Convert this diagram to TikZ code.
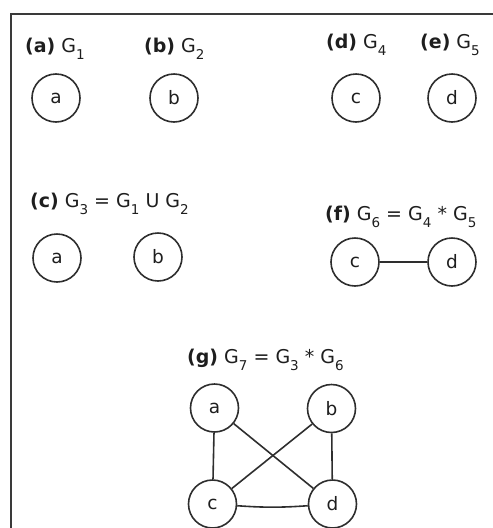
\documentclass[tikz,border=0pt]{standalone}
\usepackage{fontspec}
\setmainfont{DejaVu Sans}
\definecolor{txt}{HTML}{1E1E1E}
\definecolor{linec}{HTML}{2E2E2E}
\definecolor{framec}{HTML}{3A3A3A}
\newcommand{\Gs}[1]{G\raisebox{-7pt}{\fontsize{13.5}{13.5}\selectfont #1}}
\tikzset{
  vert/.style={circle, draw=linec, line width=1.6pt, minimum size=48pt, inner sep=0pt,
               font=\fontsize{18.5}{18.5}\selectfont, text=txt},
  lbl/.style={anchor=base west, inner sep=0pt, font=\fontsize{19}{22}\selectfont, text=txt},
  edgeline/.style={draw=linec, line width=1.6pt},
  framebox/.style={draw=framec, line width=2pt},
}
\begin{document}
\begin{tikzpicture}[x=1pt,y=-1pt]
\useasboundingbox (0,0) rectangle (493,528);
% frame
\coordinate (fb) at (11,528);
\coordinate (fc) at (11,13.5);
\coordinate (fr) at (493,13.5);
\draw[framebox] (fb) -- (fc) -- (fr);
% labels
\node[lbl] (la) at (25,52) {\textbf{(a)} \Gs{1}};
\node[lbl] (lb) at (144,52) {\textbf{(b)} \Gs{2}};
\node[lbl] (ld) at (326,48) {\textbf{(d)} \Gs{4}};
\node[lbl] (le) at (420,48) {\textbf{(e)} \Gs{5}};
\node[lbl] (lc) at (30,207) {\textbf{(c)} \Gs{3} = \Gs{1} U \Gs{2}};
\node[lbl] (lf) at (325,220) {\textbf{(f)} \Gs{6} = \Gs{4} * \Gs{5}};
\node[lbl] (lg) at (187,363) {\textbf{(g)} \Gs{7} = \Gs{3} * \Gs{6}};
% (a),(b),(d),(e)
\node[vert] (a1) at (56,98) {a};
\node[vert] (b2) at (174,98) {b};
\node[vert] (c4) at (356,98) {c};
\node[vert] (d5) at (452,98) {d};
% (c)
\node[vert] (a3) at (57,258) {a};
\node[vert] (b3) at (158,257) {b};
% (f)
\node[vert] (c6) at (355,262) {c};
\node[vert] (d6) at (452,262) {d};
\draw[edgeline] (c6) -- (d6);
% (g)
\node[vert] (a7) at (214.5,408) {a};
\node[vert] (b7) at (331.5,408.5) {b};
\node[vert] (c7) at (212.5,504) {c};
\node[vert] (d7) at (332.5,504) {d};
\draw[edgeline] (a7) -- (c7);
\draw[edgeline] (a7) -- (d7);
\draw[edgeline] (b7) -- (c7);
\draw[edgeline] (b7) -- (d7);
\draw[edgeline] (c7) to[bend right=4] (d7);
\end{tikzpicture}
\end{document}
